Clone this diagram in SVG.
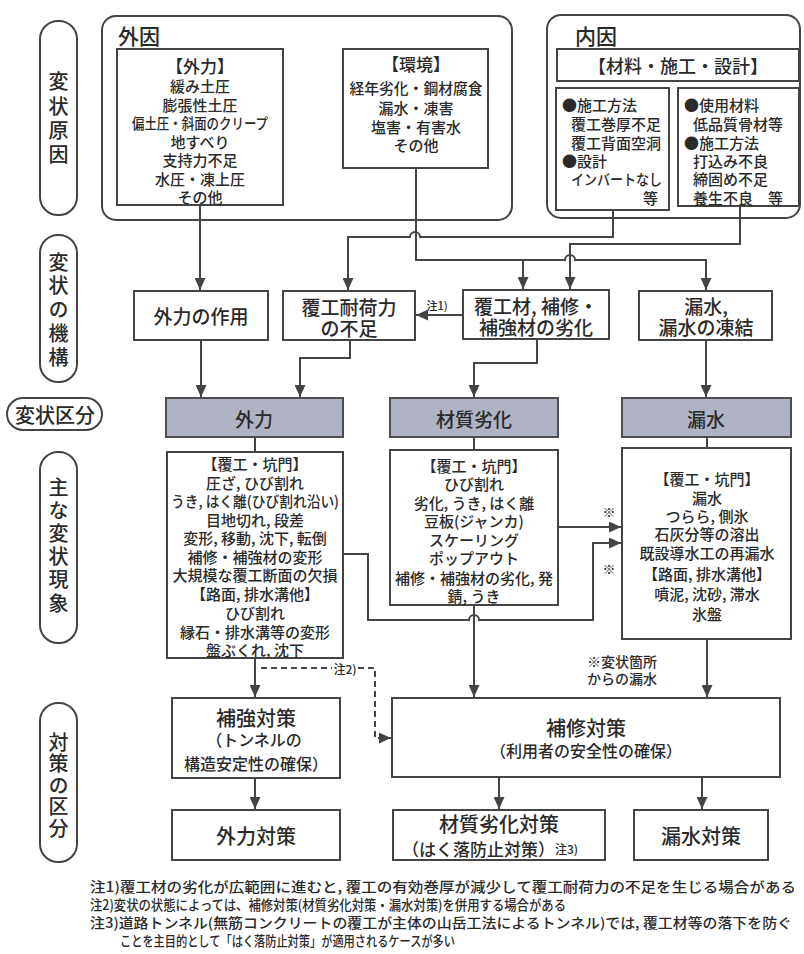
<svg xmlns="http://www.w3.org/2000/svg" width="804" height="954" viewBox="0 0 804 954">
<style>
text{font-family:"Noto Sans CJK JP","Noto Sans",sans-serif;fill:#2a2a2a;font-weight:500}
.c{text-anchor:middle;dominant-baseline:central}
.l{dominant-baseline:central}
.v{writing-mode:vertical-rl;text-anchor:middle;dominant-baseline:central}
.f11{font-size:11px}.f12{font-size:12px}.f13{font-size:13px}.f14{font-size:14px}.f15{font-size:15px}.f16{font-size:16px}.f17{font-size:17px}.f18{font-size:18px}.f19{font-size:19px}.f20{font-size:20px}.f21{font-size:21px}
.box{fill:#fff;stroke:#444;stroke-width:2}
.frame{fill:none;stroke:#444;stroke-width:2}
.pill{fill:#fff;stroke:#444;stroke-width:2}
.cat{fill:#b0b3c4;stroke:#4d4d4d;stroke-width:2}
.ln{fill:none;stroke:#444;stroke-width:2}
.arr{marker-end:url(#ah)}
.dash{stroke-dasharray:6 4}
</style>
<defs>
<marker id="ah" markerUnits="userSpaceOnUse" viewBox="0 0 12 11" refX="12" refY="5.5" markerWidth="12" markerHeight="11" orient="auto">
<path d="M0,0 L12,5.5 L0,11 z" fill="#444"/>
</marker>
</defs>
<rect width="804" height="954" fill="#fff"/>

<!-- side labels -->
<g id="lbl-cause"><rect class="pill" x="40" y="21" width="37" height="194" rx="18"/>
<text class="v f20" x="58.5" y="120.5" style="letter-spacing:4.3px">変状原因</text></g>
<g id="lbl-mech"><rect class="pill" x="40" y="235" width="37" height="147" rx="18"/>
<text class="v f20" x="58.5" y="311.4" style="letter-spacing:3.75px">変状の機構</text></g>
<g id="lbl-cat"><rect class="pill" x="7" y="398" width="95" height="32" rx="16"/>
<text class="c f20" x="55" y="414">変状区分</text></g>
<g id="lbl-phen"><rect class="pill" x="40" y="452" width="37" height="191" rx="18"/>
<text class="v f20" x="58.5" y="546.6" style="letter-spacing:3.2px">主な変状現象</text></g>
<g id="lbl-meas"><rect class="pill" x="40" y="703" width="37" height="159" rx="18"/>
<text class="v f20" x="58.5" y="785.8" style="letter-spacing:1.5px">対策の区分</text></g>

<!-- external causes -->
<g id="external">
<rect class="frame" x="102" y="16" width="410" height="204" rx="14"/>
<text class="c f21" x="139" y="35">外因</text>
</g>
<g id="ext-force">
<rect class="box" x="117" y="49" width="166" height="156"/>
<text class="c f17" x="200" y="65">【外力】</text>
<text class="c f15" x="200" y="85">緩み土圧</text>
<text class="c f15" x="200" y="104">膨張性土圧</text>
<text class="c f15" x="200" y="122" textLength="136" lengthAdjust="spacingAndGlyphs">偏土圧・斜面のクリープ</text>
<text class="c f15" x="200" y="141">地すべり</text>
<text class="c f15" x="200" y="159">支持力不足</text>
<text class="c f15" x="200" y="178">水圧・凍上圧</text>
<text class="c f15" x="200" y="196">その他</text>
</g>
<g id="ext-env">
<rect class="box" x="343" y="49" width="145" height="119"/>
<text class="c f17" x="416" y="63">【環境】</text>
<text class="c f15" x="416" y="87" textLength="133" lengthAdjust="spacingAndGlyphs">経年劣化・鋼材腐食</text>
<text class="c f15" x="416" y="107">漏水・凍害</text>
<text class="c f15" x="416" y="126">塩害・有害水</text>
<text class="c f15" x="416" y="144">その他</text>
</g>

<!-- internal causes -->
<g id="internal">
<rect class="frame" x="547" y="15" width="253" height="203" rx="14"/>
<text class="c f21" x="596" y="35">内因</text>
<rect class="box" x="557" y="49" width="242" height="32"/>
<text class="c f18" x="678" y="65">【材料・施工・設計】</text>
</g>
<g id="int-construction">
<rect class="box" x="556" y="88" width="113" height="122"/>
<text class="l f15" x="562" y="104">●施工方法</text>
<text class="l f15" x="571" y="123">覆工巻厚不足</text>
<text class="l f15" x="571" y="142">覆工背面空洞</text>
<text class="l f15" x="562" y="160">●設計</text>
<text class="l f15" x="571" y="178" textLength="91" lengthAdjust="spacingAndGlyphs">インバートなし</text>
<text class="l f15" x="643" y="197">等</text>
</g>
<g id="int-material">
<rect class="box" x="678" y="88" width="121" height="118"/>
<text class="l f15" x="684" y="104">●使用材料</text>
<text class="l f15" x="693" y="123">低品質骨材等</text>
<text class="l f15" x="684" y="142">●施工方法</text>
<text class="l f15" x="693" y="160">打込み不良</text>
<text class="l f15" x="693" y="178">締固め不足</text>
<text class="l f15" x="693" y="197">養生不良　等</text>
</g>

<!-- mechanism -->
<g id="mech-force"><rect class="box" x="134" y="291" width="134" height="49"/>
<text class="c f19" x="201" y="315">外力の作用</text></g>
<g id="mech-capacity"><rect class="box" x="283" y="291" width="132" height="49"/>
<text class="c f19" x="349" y="306">覆工耐荷力</text>
<text class="c f19" x="349" y="327">の不足</text></g>
<g id="mech-deterioration"><rect class="box" x="463" y="290" width="146" height="49"/>
<text class="c f19" x="536" y="305">覆工材, 補修・</text>
<text class="c f19" x="536" y="326">補強材の劣化</text></g>
<g id="mech-leak"><rect class="box" x="639" y="291" width="133" height="49"/>
<text class="c f19" x="706" y="305">漏水,</text>
<text class="c f19" x="706" y="326">漏水の凍結</text></g>

<!-- categories -->
<g id="cat-force"><rect class="cat" x="166" y="398" width="177" height="39"/>
<text class="c f19" x="254" y="418">外力</text></g>
<g id="cat-material"><rect class="cat" x="390" y="398" width="168" height="39"/>
<text class="c f19" x="474" y="418">材質劣化</text></g>
<g id="cat-leak"><rect class="cat" x="622" y="398" width="169" height="39"/>
<text class="c f19" x="706" y="418">漏水</text></g>

<!-- phenomena -->
<g id="phen-force"><rect class="box" x="167" y="452" width="176" height="206"/>
<text class="c f15" x="255" y="463">【覆工・坑門】</text>
<text class="c f15" x="255" y="482">圧ざ, ひび割れ</text>
<text class="c f15" x="255" y="500" textLength="168" lengthAdjust="spacingAndGlyphs">うき, はく離(ひび割れ沿い)</text>
<text class="c f15" x="255" y="519">目地切れ, 段差</text>
<text class="c f15" x="255" y="537">変形, 移動, 沈下, 転倒</text>
<text class="c f15" x="255" y="556">補修・補強材の変形</text>
<text class="c f15" x="255" y="574">大規模な覆工断面の欠損</text>
<text class="c f15" x="255" y="593">【路面, 排水溝他】</text>
<text class="c f15" x="255" y="612">ひび割れ</text>
<text class="c f15" x="255" y="631">縁石・排水溝等の変形</text>
<text class="c f15" x="255" y="649">盤ぶくれ, 沈下</text>
</g>
<g id="phen-material"><rect class="box" x="390" y="450" width="168" height="155"/>
<text class="c f15" x="474" y="465">【覆工・坑門】</text>
<text class="c f15" x="474" y="483">ひび割れ</text>
<text class="c f15" x="474" y="502">劣化, うき, はく離</text>
<text class="c f15" x="474" y="520">豆板(ジャンカ)</text>
<text class="c f15" x="474" y="539">スケーリング</text>
<text class="c f15" x="474" y="557">ポップアウト</text>
<text class="c f15" x="474" y="577">補修・補強材の劣化, 発</text>
<text class="c f15" x="474" y="595">錆, うき</text>
</g>
<g id="phen-leak"><rect class="box" x="622" y="448" width="169" height="191"/>
<text class="c f15" x="707" y="478">【覆工・坑門】</text>
<text class="c f15" x="707" y="497">漏水</text>
<text class="c f15" x="707" y="515">つらら, 側氷</text>
<text class="c f15" x="707" y="533">石灰分等の溶出</text>
<text class="c f15" x="707" y="552">既設導水工の再漏水</text>
<text class="c f15" x="707" y="573">【路面, 排水溝他】</text>
<text class="c f15" x="707" y="593">噴泥, 沈砂, 滞水</text>
<text class="c f15" x="707" y="613">氷盤</text>
</g>

<!-- measures -->
<g id="meas-reinforce"><rect class="box" x="172" y="698" width="168" height="80"/>
<text class="c f20" x="256" y="717">補強対策</text>
<text class="c f16" x="254" y="739">（トンネルの</text>
<text class="c f16" x="256" y="763">構造安定性の確保）</text></g>
<g id="meas-repair"><rect class="box" x="392" y="698" width="388" height="79"/>
<text class="c f20" x="586" y="727">補修対策</text>
<text class="c f16" x="586" y="750">（利用者の安全性の確保）</text></g>
<g id="meas-force"><rect class="box" x="172" y="810" width="168" height="50"/>
<text class="c f20" x="256" y="835">外力対策</text></g>
<g id="meas-material"><rect class="box" x="393" y="810" width="212" height="50"/>
<text class="c f20" x="499" y="823">材質劣化対策</text>
<text class="l f17" x="402" y="848">（はく落防止対策）<tspan class="f12">注3)</tspan></text></g>
<g id="meas-leak"><rect class="box" x="634" y="810" width="134" height="50"/>
<text class="c f20" x="701" y="835">漏水対策</text></g>

<!-- connectors -->
<g id="connectors">
<path class="ln arr" d="M200,205 V290"/>
<path class="ln arr" d="M416,168 V260 H565 A5,5 0 0 1 575,260 H706 V290"/>
<path class="ln arr" d="M523,260 V289"/>
<path class="ln arr" d="M613,210 V237 H420 A5,5 0 0 0 410,237 H348 V290"/>
<path class="ln arr" d="M740,206 V244 H570 V289"/>
<path class="ln arr" d="M463,315 H416"/>
<text class="c f11" x="437" y="305">注1)</text>
<path class="ln arr" d="M201,340 V397"/>
<path class="ln arr" d="M350,340 V358 H300 V397"/>
<path class="ln arr" d="M537,339 V363 H474 V397"/>
<path class="ln arr" d="M706,340 V397"/>
<path class="ln" d="M255,437 V452"/>
<path class="ln" d="M474,437 V450"/>
<path class="ln" d="M707,437 V448"/>
<path class="ln arr" d="M558,527 H621"/>
<path class="ln arr" d="M343,554 H368 V620 H469 A5,5 0 0 1 479,620 H593 V543 H621"/>
<text class="c f13" x="609" y="511">※</text>
<text class="c f13" x="609" y="568">※</text>
<path class="ln arr" d="M474,605 V697"/>
<path class="ln arr" d="M255,658 V697"/>
<path class="ln dash" d="M261,668 H332"/>
<text class="c f12" x="345" y="668">注2)</text>
<path class="ln dash arr" d="M358,668 H375 V738 H391"/>
<path class="ln arr" d="M707,639 V697"/>
<text class="c f14" x="622" y="661">※変状箇所</text>
<text class="c f14" x="622" y="678">からの漏水</text>
<path class="ln arr" d="M255,778 V809"/>
<path class="ln arr" d="M499,777 V809"/>
<path class="ln arr" d="M702,777 V809"/>
</g>

<!-- notes -->
<g id="notes">
<text class="l f14" x="90" y="886" textLength="706" lengthAdjust="spacingAndGlyphs">注1)覆工材の劣化が広範囲に進むと, 覆工の有効巻厚が減少して覆工耐荷力の不足を生じる場合がある</text>
<text class="l f14" x="90" y="904" textLength="476" lengthAdjust="spacingAndGlyphs">注2)変状の状態によっては、補修対策(材質劣化対策・漏水対策)を併用する場合がある</text>
<text class="l f14" x="90" y="922" textLength="702" lengthAdjust="spacingAndGlyphs">注3)道路トンネル(無筋コンクリートの覆工が主体の山岳工法によるトンネル)では, 覆工材等の落下を防ぐ</text>
<text class="l f14" x="120" y="940" textLength="335" lengthAdjust="spacingAndGlyphs">ことを主目的として「はく落防止対策」が適用されるケースが多い</text>
</g>
</svg>
